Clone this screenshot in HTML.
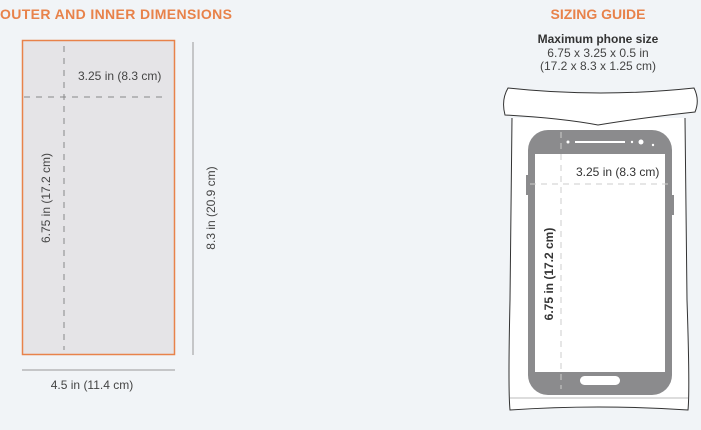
<!DOCTYPE html>
<html><head><style>
body{margin:0;width:701px;height:425px;background:#f1f4f7;overflow:hidden;font-family:"Liberation Sans",sans-serif}
</style></head><body>
<svg width="701" height="425" viewBox="0 0 701 425" xmlns="http://www.w3.org/2000/svg" font-family="Liberation Sans, sans-serif">
<text x="0" y="19" font-size="14" font-weight="bold" fill="#e8824a" textLength="232">OUTER AND INNER DIMENSIONS</text>
<rect x="22.5" y="40.5" width="152" height="314" fill="#e5e4e7" stroke="#e8824a" stroke-width="1.5"/>
<line x1="64" y1="46" x2="64" y2="350" stroke="#888" stroke-dasharray="6,6"/>
<line x1="24" y1="97" x2="165" y2="97" stroke="#888" stroke-dasharray="6,6"/>
<text x="78" y="80" font-size="12" fill="#444">3.25 in (8.3 cm)</text>
<text transform="translate(50,198) rotate(-90)" text-anchor="middle" font-size="12" fill="#444">6.75 in (17.2 cm)</text>
<line x1="193" y1="42" x2="193" y2="355" stroke="#999"/>
<text transform="translate(215,208) rotate(-90)" text-anchor="middle" font-size="12" fill="#444">8.3 in (20.9 cm)</text>
<line x1="22" y1="370" x2="175" y2="370" stroke="#999"/>
<text x="92" y="389" text-anchor="middle" font-size="12" fill="#444">4.5 in (11.4 cm)</text>

<text x="598" y="19" text-anchor="middle" font-size="14" font-weight="bold" fill="#e8824a">SIZING GUIDE</text>
<text x="598" y="43" text-anchor="middle" font-size="12" font-weight="bold" fill="#333">Maximum phone size</text>
<text x="598" y="57" text-anchor="middle" font-size="12" fill="#444">6.75 x 3.25 x 0.5 in</text>
<text x="598" y="70" text-anchor="middle" font-size="12" fill="#444">(17.2 x 8.3 x 1.25 cm)</text>
<path d="M512 118 L510 300 Q508 390 510 410 Q598 404 688 410 Q690 390 687 300 L685 118" fill="#fff" stroke="#333" stroke-width="1"/>
<line x1="510" y1="398" x2="688" y2="398" stroke="#bbb"/>
<path d="M508 88 Q600 98 694 88 Q700 100 695 112 Q640 118 598 125 Q560 118 505 115 Q501 100 508 88Z" fill="#fff" stroke="#333" stroke-width="1"/>
<rect x="528" y="130" width="144" height="265" rx="20" fill="#8b8b8d"/>
<rect x="526" y="175" width="3" height="20" fill="#8b8b8d"/><rect x="671" y="195" width="3" height="20" fill="#8b8b8d"/>
<rect x="535" y="154" width="130" height="218" fill="#fff"/>
<line x1="575" y1="142" x2="625" y2="142" stroke="#fff" stroke-width="2"/>
<circle cx="568" cy="142" r="1.5" fill="#fff"/><circle cx="632" cy="142" r="1.2" fill="#fff"/><circle cx="641" cy="142" r="2.5" fill="#fff"/><circle cx="653" cy="145" r="1.2" fill="#fff"/>
<rect x="580" y="376" width="40" height="9" rx="4.5" fill="#fff"/>
<line x1="561" y1="132" x2="561" y2="389" stroke="#ccc" stroke-dasharray="6,5"/>
<line x1="530" y1="184" x2="670" y2="184" stroke="#ccc" stroke-dasharray="6,5"/>
<text x="576" y="176" font-size="12" fill="#333">3.25 in (8.3 cm)</text>
<text transform="translate(553,274) rotate(-90)" text-anchor="middle" font-size="12" font-weight="bold" fill="#333">6.75 in (17.2 cm)</text>
</svg>
</body></html>
